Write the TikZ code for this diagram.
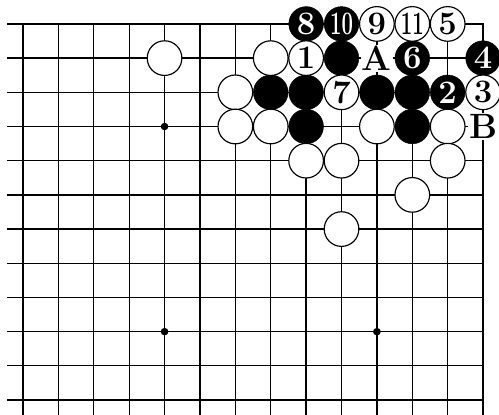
\documentclass[tikz,border=0pt]{standalone}
\usepackage{fontspec}
\usepackage{tikz}
\usetikzlibrary{positioning}
\definecolor{boardline}{HTML}{000000}
\newcommand{\narrownum}[1]{\scalebox{0.62}[1]{#1}}

\tikzset{
  gridline/.style={boardline,line width=1.1pt},
  edgeline/.style={boardline,line width=1.8pt},
  blackstone/.style={circle,draw=black,fill=black,minimum size=1.04cm,inner sep=0pt,
    text=white,font=\fontsize{28}{28}\selectfont\bfseries},
  whitestone/.style={circle,draw=black,fill=white,line width=1pt,minimum size=1.04cm,
    inner sep=0pt,font=\fontsize{28}{28}\selectfont\bfseries},
  pointlabel/.style={fill=white,inner sep=1pt,font=\bfseries\fontsize{30}{30}\selectfont}
}

\begin{document}
\begin{tikzpicture}[x=1.062cm,y=-1.026cm]
  \useasboundingbox (-0.65,-0.70) rectangle (13.45,11.43);
  % Grid
  \foreach \r in {1,...,11} {
    \draw[gridline] (-0.45,\r) -- (13,\r);
  }
  \foreach \c in {0,...,12} {
    \draw[gridline] (\c,0) -- (\c,11.43);
  }
  % Board edges (top and right)
  \draw[edgeline] (-0.45,0) -- (13,0) -- (13,11.43);
  % Star points
  \foreach \c/\r in {4/3, 4/9, 10/9} {
    \fill (\c,\r) circle (0.11);
  }
  % Black stones
  \foreach \c/\r in {9/1, 7/2, 8/2, 10/2, 11/2, 8/3, 11/3} {
    \node[blackstone] (b\c-\r) at (\c,\r) {};
  }
  \foreach \c/\r/\n in {8/0/8, 9/0/{\narrownum{10}}, 13/1/4, 11/1/6, 12/2/2} {
    \node[blackstone] (b\c-\r) at (\c,\r) {\n};
  }
  % White stones
  \foreach \c/\r in {4/1, 7/1, 6/2, 6/3, 7/3, 10/3, 12/3, 8/4, 9/4, 12/4, 11/5, 9/6} {
    \node[whitestone] (w\c-\r) at (\c,\r) {};
  }
  \foreach \c/\r/\n in {10/0/9, 11/0/{\narrownum{11}}, 12/0/5, 8/1/1, 9/2/7, 13/2/3} {
    \node[whitestone] (w\c-\r) at (\c,\r) {\n};
  }
  % Marked points
  \node[pointlabel] (ptA) at (10,1) {A};
  \node[pointlabel] (ptB) at (13,3) {B};
\end{tikzpicture}
\end{document}
